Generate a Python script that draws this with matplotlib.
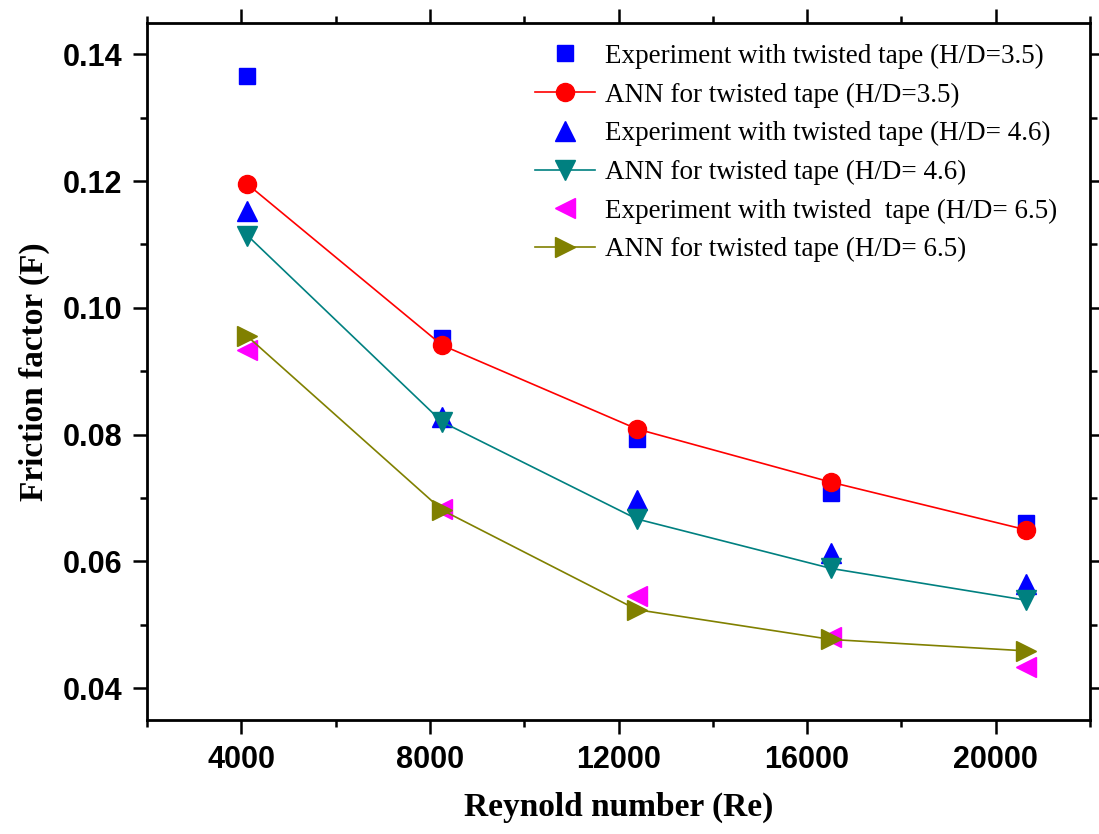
import matplotlib
matplotlib.use("Agg")
import matplotlib.pyplot as plt
from matplotlib.ticker import MultipleLocator

re_values = [4130, 8260, 12390, 16510, 20640]

exp_35 = [0.1366, 0.0952, 0.0793, 0.0708, 0.0660]
ann_35 = [0.1195, 0.0941, 0.0809, 0.0725, 0.0650]
exp_46 = [0.1152, 0.0828, 0.0697, 0.0613, 0.0564]
ann_46 = [0.1114, 0.0820, 0.0667, 0.0589, 0.0539]
exp_65 = [0.0934, 0.0682, 0.0546, 0.0481, 0.0434]
ann_65 = [0.0955, 0.0681, 0.0524, 0.0477, 0.0459]

labels = [
    "Experiment with twisted tape (H/D=3.5)",
    "ANN for twisted tape (H/D=3.5)",
    "Experiment with twisted tape (H/D= 4.6)",
    "ANN for twisted tape (H/D= 4.6)",
    "Experiment with twisted  tape (H/D= 6.5)",
    "ANN for twisted tape (H/D= 6.5)",
]
x_ticks = [4000, 8000, 12000, 16000, 20000]
y_ticks = [0.04, 0.06, 0.08, 0.10, 0.12, 0.14]

fig = plt.figure(figsize=(10.99, 8.34), dpi=100)
ax = fig.add_axes([0.1338, 0.1367, 0.8580, 0.8363])

lw = 1.2
ax.plot(re_values, exp_35, linestyle="none", marker="s", ms=11.5, color="#0000FF", label=labels[0], zorder=3)
ax.plot(re_values, ann_35, linestyle="-", lw=lw, marker="o", ms=13, color="#FF0000", label=labels[1], zorder=4)
ax.plot(re_values, exp_46, linestyle="none", marker="^", ms=14, color="#0000FF", label=labels[2], zorder=3)
ax.plot(re_values, ann_46, linestyle="-", lw=lw, marker="v", ms=14, color="#008080", label=labels[3], zorder=4)
ax.plot(re_values, exp_65, linestyle="none", marker="<", ms=14, color="#FF00FF", label=labels[4], zorder=3)
ax.plot(re_values, ann_65, linestyle="-", lw=lw, marker=">", ms=14, color="#808000", label=labels[5], zorder=4)

ax.set_xlim(2000, 22000)
ax.set_ylim(0.035, 0.145)
ax.set_xticks(x_ticks)
ax.set_yticks(y_ticks)
ax.set_xticklabels([str(v) for v in x_ticks])
ax.set_yticklabels([f"{v:.2f}" for v in y_ticks])
ax.xaxis.set_minor_locator(MultipleLocator(2000))
ax.yaxis.set_minor_locator(MultipleLocator(0.01))

for s in ax.spines.values():
    s.set_linewidth(2)
ax.tick_params(which="both", direction="out", top=True, right=True, width=1.8)
ax.tick_params(which="major", length=10, pad=8)
ax.tick_params(which="minor", length=5)
for lab in ax.get_xticklabels() + ax.get_yticklabels():
    lab.set_fontfamily("Liberation Sans")
    lab.set_fontweight("bold")
    lab.set_fontsize(22)

ax.set_xlabel("Reynold number (Re)", fontfamily="Liberation Serif", fontweight="bold",
              fontsize=24, labelpad=12)
ax.set_ylabel("Friction factor (F)", fontfamily="Liberation Serif", fontweight="bold",
              fontsize=24, labelpad=9)

leg = ax.legend(loc="upper left", bbox_to_anchor=(0.40, 0.985), frameon=False,
                prop={"family": "Liberation Serif", "size": 19.5},
                handlelength=2.2, handletextpad=0.4, labelspacing=0.5,
                borderaxespad=0)

fig.savefig("out.png", dpi=100)
